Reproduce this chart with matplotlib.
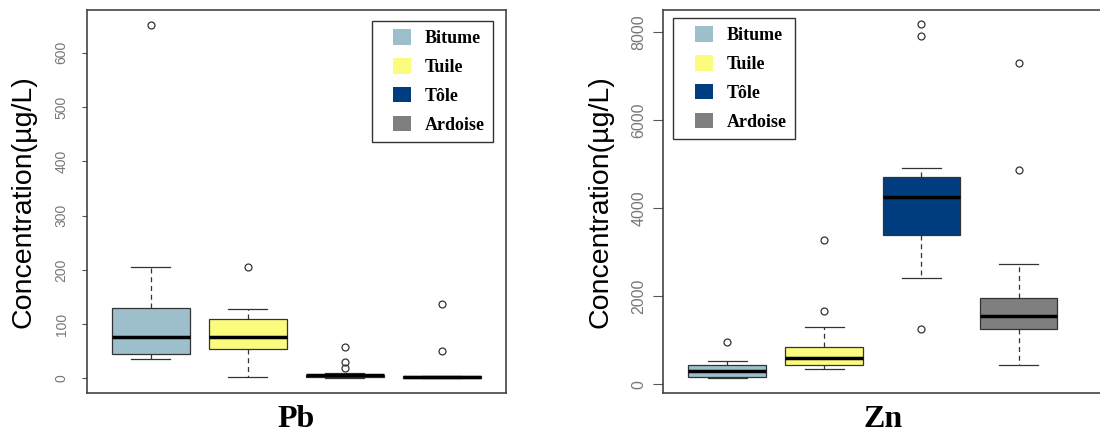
import matplotlib.pyplot as plt
from matplotlib.patches import Patch, Rectangle
from matplotlib.legend_handler import HandlerPatch

groups = ["Bitume", "Tuile", "Tôle", "Ardoise"]
colors = ["#9cbfcb", "#fbfb7e", "#003d7e", "#7f7f7f"]

# Pb (µg/L) - box statistics
pb_whislo = [35, 3, 1, 0]
pb_q1 = [44, 55, 3, 1]
pb_med = [76, 76, 6, 3]
pb_q3 = [129, 110, 7, 4]
pb_whishi = [206, 127, 9, 5]
pb_fliers = [[651], [206], [57, 30, 20], [137, 50]]
pb_ticks = [0, 100, 200, 300, 400, 500, 600]

# Zn (µg/L)
zn_whislo = [140, 356, 2423, 431]
zn_q1 = [165, 447, 3383, 1265]
zn_med = [302, 597, 4253, 1560]
zn_q3 = [431, 847, 4708, 1960]
zn_whishi = [529, 1301, 4912, 2741]
zn_fliers = [[961], [1664, 3270], [1265, 7909, 8190], [4875, 7296]]
zn_ticks = [0, 2000, 4000, 6000, 8000]


def make_stats(whislo, q1, med, q3, whishi, fliers):
    out = []
    for i in range(len(med)):
        out.append(dict(whislo=whislo[i], q1=q1[i], med=med[i], q3=q3[i],
                        whishi=whishi[i], fliers=fliers[i]))
    return out


def right_square(legend, orig_handle, xdescent, ydescent, width, height, fontsize):
    sq = 13
    return Rectangle((-xdescent + width - sq, -ydescent), sq, height)


def draw_panel(ax, stats, ticks, ylim, xlim, title, ylab_x, leg_loc, leg_anchor,
               tick_size, tick_len, tick_pad):
    bp = ax.bxp(stats, positions=[1, 2, 3, 4], widths=0.8, capwidths=0.4,
                patch_artist=True,
                boxprops=dict(edgecolor="#333333", linewidth=0.9),
                whiskerprops=dict(color="#333333", linewidth=0.9, linestyle=(0, (4, 3))),
                capprops=dict(color="#333333", linewidth=0.9),
                medianprops=dict(color="black", linewidth=2.5),
                flierprops=dict(marker="o", markerfacecolor="none",
                                markeredgecolor="#333333", markersize=5,
                                markeredgewidth=0.9))
    for box, c in zip(bp["boxes"], colors):
        box.set_facecolor(c)

    ax.set_xlim(*xlim)
    ax.set_ylim(*ylim)
    ax.set_xticks([])
    ax.set_yticks(ticks)
    ax.set_yticklabels([str(t) for t in ticks], rotation=90, va="center",
                       fontsize=tick_size, color="#777777", family="Liberation Sans")
    ax.tick_params(axis="y", length=tick_len, width=0.8, color="#555555", pad=tick_pad)
    for s in ax.spines.values():
        s.set_color("#444444")
        s.set_linewidth(1.2)

    ax.set_ylabel("Concentration(µg/L)", fontsize=20.5, family="Liberation Sans")
    ax.yaxis.set_label_coords(ylab_x, 0.5)
    ax.set_xlabel(title, fontsize=23, fontweight="bold", family="Liberation Serif")
    ax.xaxis.label.set_va("center")
    ax.xaxis.set_label_coords(0.5, -0.068)

    handles = [Patch(facecolor=c, edgecolor="none") for c in colors]
    leg = ax.legend(handles, groups, loc=leg_loc, bbox_to_anchor=leg_anchor,
                    borderaxespad=0, fancybox=False, framealpha=1,
                    handlelength=1.75, handleheight=0.95, handletextpad=0.75,
                    labelspacing=0.6, borderpad=0.45,
                    handler_map={Patch: HandlerPatch(patch_func=right_square)},
                    prop=dict(family="Liberation Serif", weight="bold", size=13))
    leg.get_frame().set_edgecolor("#333333")
    leg.get_frame().set_linewidth(1.0)


fig = plt.figure(figsize=(11, 4.37), dpi=100)

ax1 = fig.add_axes([87 / 1100, 44 / 437, 419 / 1100, 383 / 437])
draw_panel(ax1, make_stats(pb_whislo, pb_q1, pb_med, pb_q3, pb_whishi, pb_fliers),
           pb_ticks, (-27, 679), (0.342, 4.662), "Pb", -0.12,
           "upper right", (0.969, 0.971), 10, 3.8, 9.5)

ax2 = fig.add_axes([663 / 1100, 44 / 437, 440 / 1100, 383 / 437])
draw_panel(ax2, make_stats(zn_whislo, zn_q1, zn_med, zn_q3, zn_whishi, zn_fliers),
           zn_ticks, (-197, 8508), (0.339, 4.87), "Zn", -0.113,
           "upper left", (0.023, 0.979), 11.5, 7, 5)

fig.savefig("out.png", dpi=100)
